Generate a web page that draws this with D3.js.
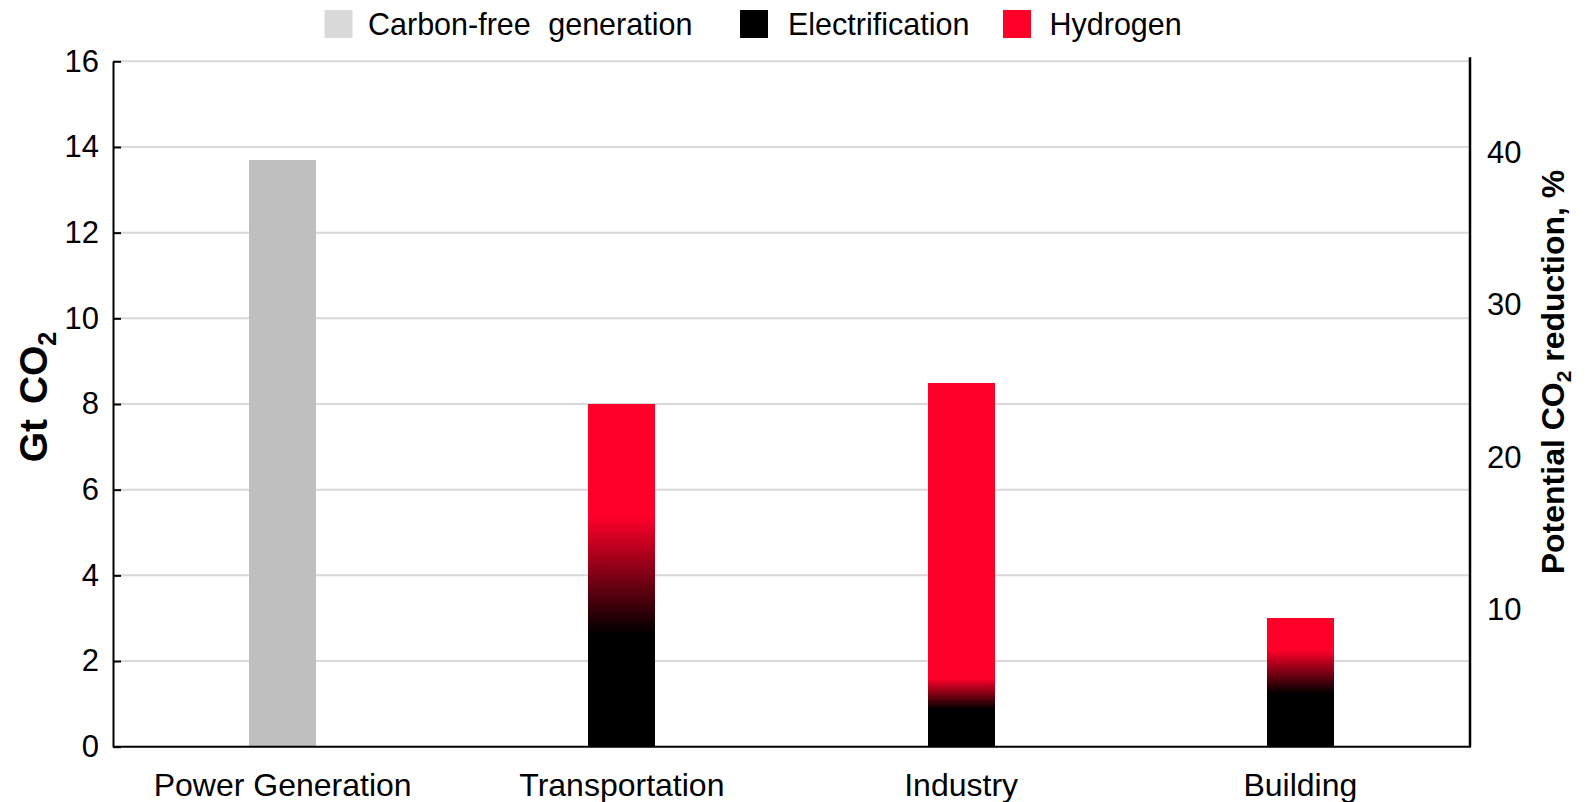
<!DOCTYPE html>
<html>
<head>
<meta charset="utf-8">
<script src="https://cdn.jsdelivr.net/npm/d3@7/dist/d3.min.js"></script>
<style>
  html, body { margin: 0; padding: 0; background: #fff; }
  svg { display: block; font-family: "Liberation Sans", Arial, sans-serif; }
</style>
</head>
<body>
<svg id="chart" width="1590" height="802"></svg>
<script>
// Sector abatement potential, Gt CO2
const categories = ["Power Generation", "Transportation", "Industry", "Building"];
const carbonFree = [13.7, 0, 0, 0];
const electrification = [0, 4.0, 1.23, 1.75];
const hydrogen = [0, 4.0, 7.27, 1.25];
// Gt range around the electrification/hydrogen boundary over which the two shares fade into each other
const blendHalfWidth = [0, 1.37, 0.36, 0.51];

const seriesNames = ["Carbon-free generation", "Electrification", "Hydrogen"];
const leftTicks = [0, 2, 4, 6, 8, 10, 12, 14, 16];
const rightTicks = [10, 20, 30, 40];
// Right axis: share of total CO2 that the left-axis quantity corresponds to
const rightDomain = [0.99, 46.0];

const colors = { carbonFree: "#bfbfbf", legendGrey: "#d9d9d9", elec: "#000000", h2: "#ff0029" };

const svg = d3.select("#chart");
const margin = { left: 113, right: 1470, top: 61.3, bottom: 746.7 };

const x = d3.scaleBand().domain(categories).range([margin.left, margin.right]).padding(0);
const y = d3.scaleLinear().domain([0, 16]).range([margin.bottom, margin.top]);
const yRight = d3.scaleLinear().domain(rightDomain).range([margin.bottom, margin.top]);
const barW = x.bandwidth() * 0.198;

// Gridlines
svg.append("g")
  .selectAll("line")
  .data(leftTicks.filter(t => t > 0))
  .join("line")
  .attr("x1", margin.left).attr("x2", margin.right)
  .attr("y1", d => y(d)).attr("y2", d => y(d))
  .attr("stroke", "#d9d9d9").attr("stroke-width", 2);

// Gradients: black (electrification) fading into red (hydrogen)
const defs = svg.append("defs");
categories.forEach((c, i) => {
  const g = defs.append("linearGradient")
    .attr("id", "grad" + i)
    .attr("gradientUnits", "userSpaceOnUse")
    .attr("x1", 0).attr("x2", 0)
    .attr("y1", y(electrification[i] - blendHalfWidth[i]))
    .attr("y2", y(electrification[i] + blendHalfWidth[i]));
  g.append("stop").attr("offset", "0%").attr("stop-color", colors.elec);
  g.append("stop").attr("offset", "100%").attr("stop-color", colors.h2);
});

// Stacked bars
const rows = categories.map((c, i) => ({
  cat: c, idx: i, carbonFree: carbonFree[i], electrification: electrification[i], hydrogen: hydrogen[i]
}));
const stack = d3.stack().keys(["carbonFree", "electrification", "hydrogen"]);
const layers = stack(rows);

const bars = svg.append("g");
layers.forEach(layer => {
  bars.append("g")
    .selectAll("rect")
    .data(layer.filter(d => d[1] - d[0] > 0))
    .join("rect")
    .attr("x", d => x(d.data.cat) + (x.bandwidth() - barW) / 2)
    .attr("width", barW)
    .attr("y", d => y(d[1]))
    .attr("height", d => y(d[0]) - y(d[1]))
    .attr("fill", d => layer.key === "carbonFree" ? colors.carbonFree : `url(#grad${d.data.idx})`)
    .attr("shape-rendering", "crispEdges");
});

// Left axis with inward ticks
const leftAxis = svg.append("g")
  .attr("transform", `translate(${margin.left},0)`)
  .call(d3.axisLeft(y).tickValues(leftTicks).tickSizeInner(-8).tickSizeOuter(0).tickPadding(14));
leftAxis.select(".domain").attr("stroke", "#000").attr("stroke-width", 2);
leftAxis.selectAll(".tick line").attr("stroke", "#000").attr("stroke-width", 2);
leftAxis.selectAll(".tick text").attr("font-size", 31).attr("fill", "#000")
  .attr("font-family", "'Liberation Sans', Arial, sans-serif");

// Right axis, no tick marks
const rightAxis = svg.append("g")
  .attr("transform", `translate(${margin.right},0)`)
  .call(d3.axisRight(yRight).tickValues(rightTicks).tickSize(0).tickPadding(17));
rightAxis.select(".domain").remove();
rightAxis.selectAll(".tick text").attr("font-size", 31).attr("fill", "#000")
  .attr("font-family", "'Liberation Sans', Arial, sans-serif");
svg.append("line")
  .attr("x1", margin.right).attr("x2", margin.right)
  .attr("y1", margin.top - 4).attr("y2", margin.bottom)
  .attr("stroke", "#000").attr("stroke-width", 2.5);

// Bottom axis line and category labels
svg.append("line")
  .attr("x1", margin.left).attr("x2", margin.right + 1)
  .attr("y1", margin.bottom).attr("y2", margin.bottom)
  .attr("stroke", "#000").attr("stroke-width", 2);
svg.append("g")
  .selectAll("text")
  .data(categories)
  .join("text")
  .attr("x", d => x(d) + x.bandwidth() / 2)
  .attr("y", 796)
  .attr("text-anchor", "middle")
  .attr("font-size", 32)
  .text(d => d);

// Axis titles
const leftTitle = svg.append("text")
  .attr("transform", "translate(47,397) rotate(-90)")
  .attr("text-anchor", "middle")
  .attr("font-size", 39).attr("font-weight", "bold")
  .attr("word-spacing", 4);
leftTitle.append("tspan").text("Gt CO");
leftTitle.append("tspan").attr("font-size", 25).attr("dy", 9).text("2");

const rightTitle = svg.append("text")
  .attr("transform", "translate(1564,372) rotate(-90)")
  .attr("text-anchor", "middle")
  .attr("font-size", 32).attr("font-weight", "bold");
rightTitle.append("tspan").text("Potential CO");
rightTitle.append("tspan").attr("font-size", 21).attr("dy", 7).text("2");
rightTitle.append("tspan").attr("dy", -7).text(" reduction, %");

// Legend
const legendItems = [
  { name: seriesNames[0], color: colors.legendGrey, sx: 324.5, tx: 368 },
  { name: seriesNames[1], color: colors.elec, sx: 740, tx: 788 },
  { name: seriesNames[2], color: colors.h2, sx: 1003, tx: 1049.5 }
];
const legend = svg.append("g");
legend.selectAll("rect")
  .data(legendItems)
  .join("rect")
  .attr("x", d => d.sx).attr("y", 10)
  .attr("width", 28).attr("height", 28)
  .attr("fill", d => d.color);
legend.selectAll("text")
  .data(legendItems)
  .join("text")
  .attr("x", d => d.tx).attr("y", 35)
  .attr("font-size", 30.5)
  .attr("word-spacing", 9)
  .text(d => d.name);
</script>
</body>
</html>
